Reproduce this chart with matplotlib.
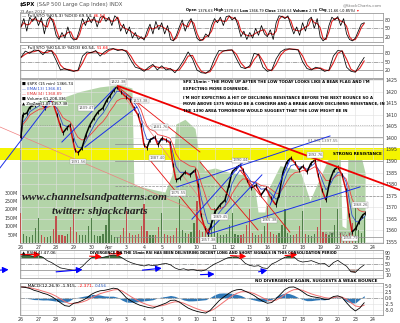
import matplotlib.pyplot as plt
import numpy as np
import pandas as pd

day_labels = ["26", "27", "28", "29", "30", "Apr", "3", "4", "5", "9", "10",
              "11", "12", "13", "16", "17", "18", "19", "20", "23", "24"]

# price path (day index, price)
price_day = [0.00, 0.11, 0.34, 0.51, 0.80, 1.08, 1.36, 1.65, 1.82, 2.05, 2.22, 2.39, 2.61, 2.78,
             2.95, 3.07, 3.24, 3.47, 3.69, 3.92, 4.15, 4.38, 4.66, 4.89, 5.06, 5.28, 5.45, 5.68,
             5.97, 6.19, 6.42, 6.65, 6.82, 6.99, 7.16, 7.33, 7.61, 7.78, 8.01, 8.24, 8.47, 8.64,
             8.81, 9.03, 9.32, 9.60, 9.89, 10.06, 10.23, 10.45, 10.63, 10.80, 11.02, 11.31, 11.59,
             11.82, 11.99, 12.22, 12.44, 12.61, 12.84, 13.07, 13.35, 13.64, 13.92, 14.20, 14.49,
             14.66, 14.89, 15.11, 15.34, 15.57, 15.80, 16.02, 16.25, 16.48, 16.70, 16.88, 17.10,
             17.33, 17.56, 17.78, 18.01, 18.24, 18.47, 18.64, 18.81, 19.03, 19.20, 19.38, 19.55]
price_val = [1400.0, 1410.0, 1410.7, 1413.3, 1414.2, 1415.1, 1412.9, 1416.4, 1415.1, 1409.9, 1405.6,
             1402.1, 1404.3, 1405.6, 1399.1, 1394.8, 1393.5, 1395.6, 1401.2, 1405.6, 1408.6, 1411.2,
             1412.9, 1416.4, 1418.1, 1420.7, 1422.0, 1419.8, 1417.7, 1416.4, 1412.9, 1409.9, 1405.6,
             1396.9, 1395.6, 1399.1, 1400.4, 1396.9, 1399.9, 1399.1, 1397.8, 1388.3, 1381.8, 1382.6,
             1385.2, 1383.9, 1386.1, 1379.6, 1366.7, 1361.0, 1358.4, 1362.3, 1368.0, 1371.0, 1373.1,
             1379.6, 1385.2, 1387.0, 1388.3, 1386.1, 1381.8, 1378.3, 1379.6, 1375.3, 1378.3, 1374.0,
             1371.0, 1375.3, 1385.2, 1389.6, 1391.3, 1389.1, 1386.1, 1387.8, 1385.2, 1389.1, 1390.4,
             1384.0, 1377.5, 1373.1, 1381.8, 1386.1, 1387.4, 1384.0, 1377.5, 1366.7, 1359.3, 1361.0,
             1363.7, 1366.3, 1367.5]

# light green area behind the price
green_day = [0.0, 1.08, 2.22, 3.35, 4.49, 5.63, 6.31, 6.42, 7.33, 8.18, 8.58, 8.81, 9.32, 9.89,
             10.17, 10.45, 11.02, 11.88, 12.73, 13.30, 13.47, 13.86, 14.03, 14.72, 15.85, 16.42,
             17.56, 18.13, 18.24, 18.47, 18.58, 19.26, 19.55]
green_val = [1414, 1416, 1417, 1420, 1422, 1423, 1421.5, 1379.6, 1378, 1376.6, 1384, 1406, 1408,
             1404, 1390.4, 1386, 1387, 1385, 1384, 1377.5, 1368, 1368, 1377.5, 1388, 1386, 1373,
             1392.6, 1394, 1362, 1361, 1393, 1394, 1385]

# volume in millions, six bars per session
vol_m = [180, 55, 40, 35, 45, 90, 150, 50, 38, 35, 42, 85, 160, 50, 45, 40, 55, 95,
         200, 65, 50, 45, 50, 100, 150, 50, 40, 40, 55, 110, 170, 50, 38, 35, 45, 90,
         190, 60, 50, 45, 55, 100, 230, 70, 50, 45, 50, 95, 180, 55, 45, 40, 50, 90,
         260, 75, 60, 55, 65, 120, 250, 80, 65, 70, 90, 140, 210, 60, 50, 45, 55, 105,
         180, 55, 45, 45, 55, 110, 200, 60, 50, 45, 55, 100, 220, 65, 55, 50, 60, 110,
         200, 60, 50, 45, 55, 100, 190, 55, 45, 40, 55, 95, 210, 65, 55, 50, 60, 110,
         200, 60, 50, 50, 60, 120, 240, 75, 60, 160]

sto5_k = [55, 85, 40, 90, 75, 92, 60, 88, 30, 80, 92, 70, 25, 10, 35, 15, 55, 20,
          8, 12, 45, 85, 60, 90, 70, 92, 55, 88, 95, 75, 90, 60, 95, 85, 40, 65,
          30, 55, 15, 35, 10, 20, 8, 40, 65, 30, 75, 45, 70, 30, 60, 10, 5, 25,
          55, 80, 40, 70, 85, 50, 15, 5, 10, 30, 20, 60, 85, 70, 90, 60, 92, 95,
          80, 90, 60, 20, 40, 10, 35, 15, 50, 25, 60, 30, 20, 45, 10, 70, 95, 92,
          85, 95, 60, 30, 55, 25, 70, 40, 80, 90, 50, 85, 20, 5, 15, 60, 90, 80,
          92, 60, 85, 30, 10, 5, 15, 40, 65, 70]

sto14_k = [65, 88, 80, 92, 90, 75, 92, 88, 55, 20, 25, 18, 15, 20, 70, 85, 82, 90, 70, 85,
           95, 97, 90, 94, 85, 55, 30, 25, 15, 30, 40, 20, 35, 20, 25, 10, 30, 55, 85, 60,
           20, 10, 8, 20, 60, 90, 88, 92, 92, 60, 30, 25, 35, 80, 75, 30, 15, 20, 60, 85,
           95, 96, 94, 92, 50, 25, 20, 30, 25, 15, 20, 70, 90, 88, 30, 15, 12, 40, 65]

rsi14 = [78, 82, 80, 77, 80, 74, 62, 55, 45, 36, 33, 30, 27, 30, 42, 58, 72, 78, 72, 75,
         79, 82, 81, 72, 62, 55, 50, 46, 43, 47, 44, 46, 50, 52, 47, 36, 30, 33, 28, 31,
         27, 25, 29, 40, 50, 57, 65, 72, 75, 76, 68, 52, 45, 42, 44, 36, 34, 50, 57, 66,
         74, 78, 76, 62, 57, 59, 62, 56, 50, 52, 40, 55, 63, 52, 42, 22, 20, 35, 47]

macd_line = [4.6, 4.4, 4.0, 3.2, 2.7, 2.0, 1.5, 0.6, -0.6, -2.0, -3.2, -3.5, -2.2, -1.8, -1.0, 0.0,
             1.5, 2.4, 3.0, 3.2, 3.6, 4.1, 3.8, 2.0, 0.0, -1.2, -2.2, -3.0, -3.5, -4.0, -4.2, -3.5,
             -2.8, -2.1, -1.0, -0.9, -1.7, -3.0, -4.2, -5.0, -5.6, -6.0, -6.3, -5.2, -3.2, -1.2,
             0.3, 1.6, 2.8, 3.4, 3.6, 2.8, 2.0, 1.0, -0.3, -1.4, -2.2, -1.9, -0.3, 1.6, 3.5, 4.5,
             4.6, 3.8, 2.6, 1.3, 0.6, 0.3, 0.0, -0.6, -0.5, 0.6, 0.9, 0.2, -2.0, -4.0, -5.4, -4.2,
             -2.0]

fib_levels = [1405.5, 1400.4, 1397.55, 1389.88, 1379.3, 1375.0, 1357.38]
fib_start = [0.0, 8.5, 5.35, 5.35, 5.35, 5.35, 5.35]

# trendlines drawn on the chart (day, price, day, price)
blue_lines = [(-1.19, 1387.0, 1.76, 1416.4), (2.33, 1398.2, 5.34, 1421.5),
              (3.64, 1396.0, 6.59, 1413.3), (8.86, 1378.8, 17.56, 1400.8),
              (9.72, 1364.9, 12.73, 1390.4), (10.63, 1359.3, 13.69, 1384.0),
              (10.63, 1358.4, 19.26, 1378.8), (14.15, 1371.0, 15.28, 1390.4)]
red_lines = [(5.51, 1422.0, 10.17, 1393.9), (7.33, 1390.4, 10.74, 1358.9),
             (10.17, 1389.6, 13.47, 1360.2), (12.44, 1386.1, 15.28, 1359.3)]
pale_lines = [(-1.19, 1404.7, 10.45, 1366.7), (5.51, 1421.5, 10.45, 1371.0)]
resist_line = (5.51, 1422.4, 21.53, 1377.5)

label_day = [5.51, 6.8, 3.69, 3.24, 7.9, 7.73, 8.92, 10.63, 11.3, 12.44, 14.1, 16.7, 18.7, 19.26]
label_price = [1424.1, 1416.0, 1412.9, 1389.6, 1404.7, 1391.3, 1376.2, 1355.9, 1365.8, 1390.4,
               1364.5, 1392.6, 1356.7, 1371.0]
label_text = ["1422.38", "1413.38", "1409.47", "1391.56", "1401.76", "1387.40", "1375.55",
              "1357.38", "1369.45", "1390.44", "1365.38", "1392.76", "1358.79", "1368.26"]

rsi_arrows = [(-1.2, 28, -0.7, 30, 'blue'), (0.0, 84, 1.1, 84, 'red'), (2.0, 22, 3.5, 30, 'blue'),
              (3.9, 78, 4.6, 76, 'red'), (5.0, 86, 5.8, 88, 'red'), (6.9, 28, 8.0, 35, 'blue'),
              (10.2, 12, 11.0, 14, 'blue'), (11.9, 80, 12.8, 77, 'red'), (13.5, 22, 14.0, 28, 'blue'),
              (15.0, 80, 15.7, 84, 'red')]

FS = 3.4
XL = (-0.05, 20.57)

fig = plt.figure(figsize=(4.0, 3.23), dpi=100)


def rect(top, bottom):
    return [20 / 400, 1 - bottom / 323, 363 / 400, (bottom - top) / 323]


def frame(a, ylim, yticks, ylabels=None, xlabels=False):
    a.set_xlim(*XL)
    a.set_ylim(*ylim)
    a.set_xticks(range(len(day_labels)))
    a.set_xticklabels(day_labels if xlabels else [])
    a.set_yticks(yticks)
    if ylabels is not None:
        a.set_yticklabels(ylabels)
    a.yaxis.tick_right()
    a.tick_params(labelsize=FS, length=0, pad=1.5, colors='#333333')
    a.grid(True, color='#e0e0e0', lw=0.4)
    for s in a.spines.values():
        s.set_color('#9a9a9a')
        s.set_linewidth(0.6)


def fig_chain(x, y, parts, fs):
    prev = None
    for txt, props in parts:
        if prev is None:
            prev = fig.text(x, y, txt, fontsize=fs, va='bottom', ha='left', **props)
        else:
            prev = fig.add_artist(plt.Annotation(txt, xy=(1, 0), xycoords=prev, va='bottom',
                                                 ha='left', fontsize=fs, **props))
    return prev


def ax_chain(a, x, y, parts, fs):
    prev = None
    for txt, props in parts:
        if prev is None:
            prev = a.text(x, y, txt, fontsize=fs, va='top', ha='left', transform=a.transAxes,
                          **props)
        else:
            prev = a.annotate(txt, xy=(1, 0), xycoords=prev, va='bottom', ha='left',
                              fontsize=fs, **props)
    return prev


# ---------------- header
fig_chain(20 / 400, 1 - 7 / 323, [("$SPX", dict(fontweight='bold')),
                                  (" (S&P 500 Large Cap Index) INDX", dict(color='#555555'))], 3.8)
fig.text(20 / 400, 1 - 12.5 / 323, "23-Apr-2012", fontsize=3.1, color='#555555')
fig_chain(186 / 400, 1 - 12.5 / 323,
          [("Open ", dict(fontweight='bold')), ("1376.63 ", {}), ("High ", dict(fontweight='bold')),
           ("1378.63 ", {}), ("Low ", dict(fontweight='bold')), ("1366.79 ", {}),
           ("Close ", dict(fontweight='bold')), ("1366.64 ", {}), ("Volume ", dict(fontweight='bold')),
           ("2.7B ", {}), ("Chg ", dict(fontweight='bold')), ("-11.66 (-0.85%) ", {}),
           ("\u25be", dict(color='red'))], 2.6)
fig.text(382 / 400, 1 - 5 / 323, "@StockCharts.com", fontsize=3.0, color='#777777', ha='right',
         va='center')

# ---------------- stochastics
ax1 = fig.add_axes(rect(13, 42))
frame(ax1, (1, 105), [20, 50, 80])
x5 = np.arange(len(sto5_k)) / 6
d5 = pd.Series(sto5_k).rolling(2, min_periods=1).mean()
for lv, ls in [(80, '-'), (50, '-.'), (20, '-')]:
    ax1.axhline(lv, color='#8c8c8c', lw=0.5, ls=ls)
ax1.plot(x5, d5, color='#e02020', lw=0.8)
ax1.plot(x5, sto5_k, color='black', lw=0.55)
ax_chain(ax1, 0.006, 0.97, [("\u2014 Full STO %K(5,3) %D(3) 69.54, ", {}),
                            ("66.54", dict(color='red'))], 3.1)

ax2 = fig.add_axes(rect(45, 78))
frame(ax2, (-9, 110), [20, 50, 80])
x14 = np.arange(len(sto14_k)) / 4
d14 = pd.Series(sto14_k).rolling(2, min_periods=1).mean()
for lv, ls in [(80, '-'), (50, '-.'), (20, '-')]:
    ax2.axhline(lv, color='#8c8c8c', lw=0.5, ls=ls)
ax2.plot(x14, d14, color='#e02020', lw=0.8)
ax2.plot(x14, sto14_k, color='black', lw=0.55)
ax_chain(ax2, 0.006, 0.97, [("\u2014 Full STO %K(14,3) %D(3) 60.54, ", {}),
                            ("51.66", dict(color='red'))], 3.1)

# ---------------- main price panel (green area / volume / price)
PL = (1354.6, 1425.4)
axg = fig.add_axes(rect(79, 243))
frame(axg, PL, np.arange(1355, 1426, 5), xlabels=True)
axg.set_yticklabels([])
axg.set_axisbelow(False)
axg.fill_between(green_day, PL[0], green_val, color='#b3d4a8', lw=0, zorder=1)
axg.fill_between([-1.25, 21.6], 1390.4, 1395.6, color='#f4f400', lw=0, zorder=1.5, clip_on=False)

axv = fig.add_axes(rect(79, 243))
axv.patch.set_visible(False)
axv.set_xlim(*XL)
axv.set_ylim(0, 976)
vx = np.arange(len(vol_m)) / 6
vp = np.interp(vx, price_day, price_val)
vcol = ['#c0504d' if i == 0 or vp[i] <= vp[i - 1] else '#4f7f48' for i in range(len(vx))]
axv.bar(vx, vol_m, width=0.07, color=vcol, lw=0)
axv.set_xticks([])
axv.set_yticks([50, 100, 150, 200, 250, 300])
axv.set_yticklabels(["50M", "100M", "150M", "200M", "250M", "300M"])
axv.tick_params(labelsize=FS, length=0, pad=1.5, colors='#333333')
for s in axv.spines.values():
    s.set_visible(False)

ax = fig.add_axes(rect(79, 243))
ax.patch.set_visible(False)
ax.set_xlim(*XL)
ax.set_ylim(*PL)
ax.set_xticks([])
ax.set_yticks(np.arange(1355, 1426, 5))
ax.yaxis.tick_right()
ax.tick_params(labelsize=FS, length=0, pad=1.5, colors='#333333')
for s in ax.spines.values():
    s.set_visible(False)

for lv, st in zip(fib_levels, fib_start):
    ls = ':' if st == 0.0 else ('--' if lv in (1379.3, 1375.0) else '-')
    ax.plot([st, XL[1]], [lv, lv], color='#8a8a8a', lw=0.5, ls=ls)
ax.text(16.3, 1398.3, "61.8% 1397.55", fontsize=2.8, color='#666666')
ax.text(17.3, 1358.2, "0.0% 1357.38", fontsize=2.8, color='#666666')

for d0, p0, d1, p1 in pale_lines:
    ax.plot([d0, d1], [p0, p1], color='#f08080', lw=0.5, clip_on=False)

ema_fast = pd.Series(price_val).ewm(span=3).mean()
ema_slow = pd.Series(price_val).ewm(span=7).mean()
ax.plot(price_day, ema_slow, color='#f04040', lw=0.6)
ax.plot(price_day, ema_fast, color='#3050d0', lw=0.6)

for i in range(len(price_day) - 1):
    c = 'black' if price_val[i + 1] >= price_val[i] else '#d01010'
    ax.plot(price_day[i:i + 2], price_val[i:i + 2], color=c, lw=1.1, solid_capstyle='butt')
ax.vlines(price_day, np.array(price_val) - 1.0, np.array(price_val) + 1.0, color='black', lw=0.6)

for d0, p0, d1, p1 in blue_lines:
    ax.plot([d0, d1], [p0, p1], color='#1a2fe8', lw=0.7, clip_on=False)
for d0, p0, d1, p1 in red_lines:
    ax.plot([d0, d1], [p0, p1], color='#e81010', lw=0.6)
ax.plot(resist_line[::2], resist_line[1::2], color='#ee0000', lw=1.3, clip_on=False)

for d, p, t in zip(label_day, label_price, label_text):
    ax.text(d, p, t, fontsize=2.7, color='#555555', ha='center', va='center',
            bbox=dict(boxstyle='square,pad=0.15', fc='white', ec='#999999', lw=0.3))

ax.text(19.1, 1393.0, "STRONG RESISTANCE", fontsize=3.0, fontweight='bold', ha='center',
        va='center')

notes = ["SPX 15min - THE MOVE UP AFTER THE LOW TODAY LOOKS LIKE A BEAR FLAG AND I'M",
         "EXPECTING MORE DOWNSIDE.",
         "I'M NOT EXPECTING A HIT OF DECLINING RESISTANCE BEFORE THE NEXT BOUNCE SO A",
         "MOVE ABOVE 1375 WOULD BE A CONCERN AND A BREAK ABOVE DECLINING RESISTANCE, IN",
         "THE 1390 AREA TOMORROW WOULD SUGGEST THAT THE LOW MIGHT BE IN"]
for t, p in zip(notes, [1424.1, 1420.9, 1417.4, 1414.6, 1411.8]):
    ax.text(9.2, p, t, fontsize=2.8, fontweight='bold', va='center', ha='left')

ax.text(4.2, 1374.2, "www.channelsandpatterns.com", fontsize=8.2, style='italic', ha='center',
        va='center', color='#222222', fontweight='bold', family=['Liberation Serif', 'DejaVu Serif'])
ax.text(4.5, 1368.0, "twitter: shjackcharts", fontsize=8.2, style='italic', ha='center',
        va='center', color='#222222', fontweight='bold', family=['Liberation Serif', 'DejaVu Serif'])

leg = [("\u25a0 $SPX (15 min) 1366.74", 'black'), ("\u2014 EMA(13) 1366.81", '#3050d0'),
       ("\u2014 EMA(34) 1368.89", '#e03030'), ("\u25a0 Volume 61,208,336", 'black'),
       ("\u25b2 ZigZag(1.0) 1357.38", 'black')]
for i, (t, c) in enumerate(leg):
    ax.text(0.006, 0.985 - i * 0.031, t, transform=ax.transAxes, fontsize=2.9, color=c, va='top',
            bbox=dict(boxstyle='square,pad=0.05', fc='white', ec='none', alpha=0.8))

# ---------------- RSI
ax3 = fig.add_axes(rect(250, 278))
frame(ax3, (0, 100), [10, 30, 50, 70, 90])
xr = np.arange(len(rsi14)) / 4
r = np.array(rsi14, dtype=float)
ax3.axhline(70, color='#8c8c8c', lw=0.5)
ax3.axhline(30, color='#8c8c8c', lw=0.5)
ax3.axhline(50, color='#8c8c8c', lw=0.5, ls='-.')
ax3.fill_between(xr, r, 70, where=r >= 70, interpolate=True, color='#3f6f3f', lw=0)
ax3.fill_between(xr, r, 30, where=r <= 30, interpolate=True, color='#8a5548', lw=0)
ax3.plot(xr, r, color='black', lw=0.5)
for d0, v0, d1, v1, c in rsi_arrows:
    ax3.annotate("", xy=(d1, v1), xytext=(d0, v0), annotation_clip=False,
                 arrowprops=dict(arrowstyle='-|>,head_length=0.35,head_width=0.18', color=c,
                                 lw=0.8, shrinkA=0, shrinkB=0))
ax_chain(ax3, 0.006, 0.97, [("\u25b2 RSI(14) 47.06", {})], 3.1)
ax3.text(3.92, 88, "DIVERGENCE ON THE 15min RSI HAS BEEN DELIVERING DECENT LONG AND SHORT SIGNALS "
         "IN THIS CONSOLIDATION PERIOD", fontsize=2.5, fontweight='bold', va='center')

# ---------------- MACD
ax4 = fig.add_axes(rect(283, 315))
frame(ax4, (-7.1, 6.25), [-5, -2.5, 0, 2.5, 5], ["-5.0", "-2.5", "0.0", "2.5", "5.0"], xlabels=True)
xm = np.arange(len(macd_line)) / 4
m = pd.Series(macd_line)
sig = m.ewm(span=4, adjust=False).mean()
hist = m - sig
ax4.axhline(0, color='#8c8c8c', lw=0.5, ls='-.')
ax4.fill_between(xm, 0, hist, color='#2f78b7', lw=0)
ax4.plot(xm, sig, color='#f07070', lw=0.7)
ax4.plot(xm, m, color='black', lw=0.6)
ax_chain(ax4, 0.006, 0.97, [("\u2014 MACD(12,26,9) -1.915, ", {}), ("-2.371, ", dict(color='red')),
                            ("0.456", dict(color='#3060c0'))], 3.1)
ax4.text(0.985, 1.08, "NO DIVERGENCE AGAIN, SUGGESTS A WEAK BOUNCE", transform=ax4.transAxes,
         fontsize=3.0, fontweight='bold', ha='right', va='center')

fig.savefig("out.png", dpi=100)
